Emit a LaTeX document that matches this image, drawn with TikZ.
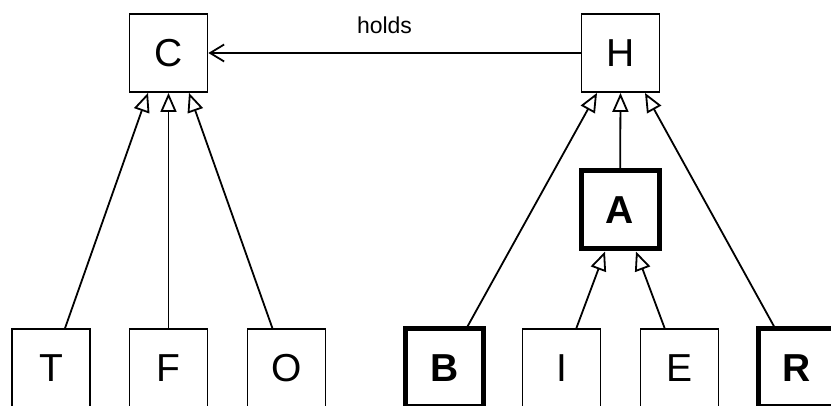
\documentclass[tikz,border=0pt]{standalone}
\usepackage{fontspec}
\setmainfont{Liberation Sans}
\usetikzlibrary{arrows.meta}
\begin{document}
\begin{tikzpicture}[x=1pt,y=-1pt,
  cls/.style={draw, line width=1.8pt, minimum size=78pt, inner sep=0pt,
    font=\fontsize{39}{42}\selectfont},
  heavy/.style={cls, line width=5pt, font=\fontsize{39}{42}\selectfont\bfseries},
  gen/.style={line width=1.8pt, -{Triangle[open, length=19pt, width=16pt, line width=1.8pt]}},
  assoc/.style={line width=1.8pt, -{Straight Barb[length=14pt, width=17pt, line width=1.8pt]}}]
\useasboundingbox (0,0) rectangle (831,406);
\begin{scope}
\clip (0,0) rectangle (831,406);
\node[cls] (C) at (168.5,53) {C};
\node[cls] (H) at (620.5,53) {H};
\node[heavy] (A) at (620,210) {A};
\node[cls] (T) at (51,368) {T};
\node[cls] (F) at (168.5,368) {F};
\node[cls] (O) at (286.5,368) {O};
\node[heavy] (B) at (444.5,368) {B};
\node[cls] (I) at (561.5,368) {I};
\node[cls] (E) at (679.5,368) {E};
\node[heavy] (R) at (797,368) {R};
\draw[gen] (T) -- ([xshift=-20.5pt]C.south);
\draw[gen] (F) -- (C.south);
\draw[gen] (O) -- ([xshift=20.5pt]C.south);
\draw[gen] (B) -- ([xshift=-23.5pt]H.south);
\draw[gen] (A) -- (H.south);
\draw[gen] (R) -- ([xshift=24.5pt]H.south);
\draw[gen] (I) -- ([xshift=-15pt]A.south);
\draw[gen] (E) -- ([xshift=16pt]A.south);
\draw[assoc] (H) -- node[above=15pt, xshift=-10pt, font=\fontsize{23}{26}\selectfont] (lbl) {holds} (C);
\end{scope}
\end{tikzpicture}
\end{document}
